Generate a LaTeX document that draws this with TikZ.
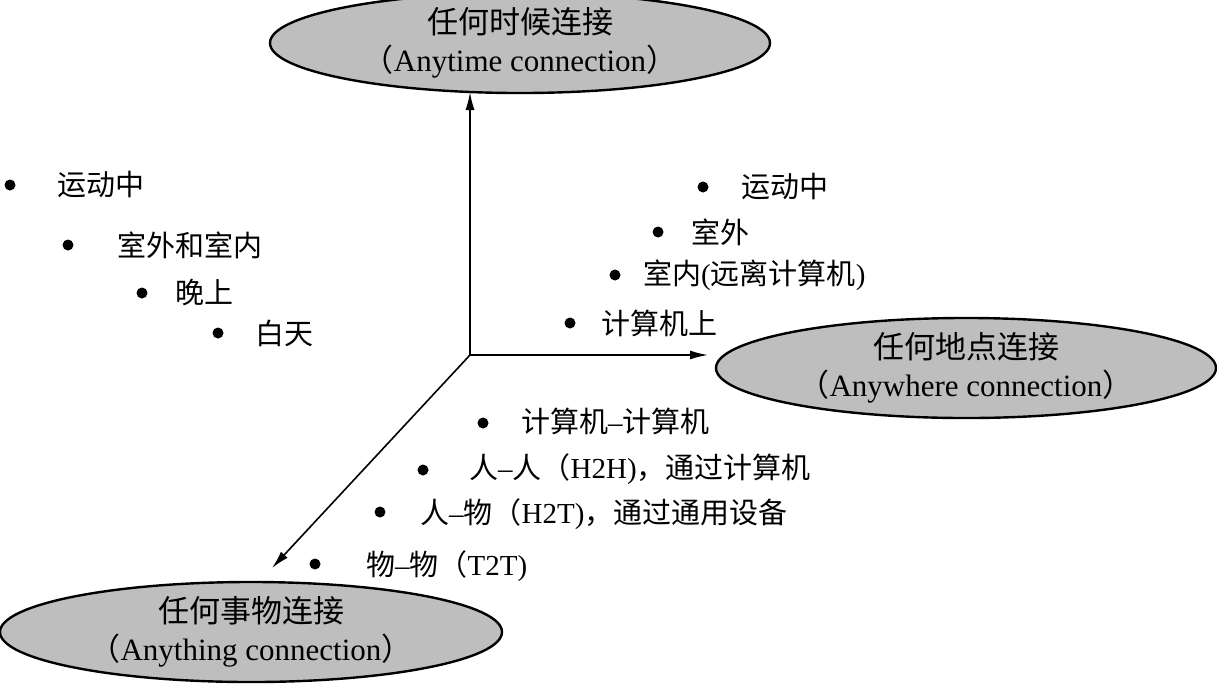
\documentclass[tikz,border=0pt]{standalone}
\usepackage{fontspec}
\setmainfont{Liberation Serif}
\newfontfamily\cjk{Noto Sans CJK SC}
\usepackage{tikz}
\usetikzlibrary{arrows.meta,positioning,shapes.geometric}
\definecolor{ovgray}{RGB}{190,190,190}

\begin{document}
\begin{tikzpicture}[x=1pt,y=-1pt,font=\fontsize{29}{38}\selectfont,
    goal/.style={ellipse,draw,line width=2.4pt,fill=ovgray,inner sep=0pt,align=center,minimum height=82pt,font=\fontsize{31}{38}\selectfont},
    pt/.style={circle,fill,inner sep=0pt,minimum size=11pt},
    lbl/.style={anchor=west,inner sep=0pt,font=\fontsize{29}{38}\selectfont\cjk},
    axis/.style={line width=1.6pt,-{Latex[length=18pt,width=9pt]}}]
        \useasboundingbox (0,0) rectangle (1217,683);
        % the three goals
        \node[goal,minimum width=500pt] (time) at (520,43) {{\cjk 任何时候连接}\\{\cjk （}Anytime connection{\cjk ）}};
        \node[goal,minimum width=500pt] (place) at (966,368) {{\cjk 任何地点连接}\\{\cjk （}Anywhere connection{\cjk ）}};
        \node[goal,minimum width=502pt] (thing) at (251,632) {{\cjk 任何事物连接}\\{\cjk （}Anything connection{\cjk ）}};
        % axes
        \coordinate (o) at (470,355);
        \coordinate (up) at (470,92);
        \coordinate (rt) at (708,355);
        \coordinate (dn) at (272,568);
        \draw[axis] (o) -- (up);
        \draw[axis] (o) -- (rt);
        \draw[axis] (o) -- (dn);
        % time
        \node[pt] (t1) at (10,185) {};  \node[lbl] (tl1) at (57,185) {运动中};
        \node[pt] (t2) at (68,245) {};  \node[lbl] (tl2) at (117,245) {室外和室内};
        \node[pt] (t3) at (142,293) {}; \node[lbl] (tl3) at (175,293) {晚上};
        \node[pt] (t4) at (218,333) {}; \node[lbl] (tl4) at (255,333) {白天};
        % place
        \node[pt] (p1) at (703,187) {}; \node[lbl] (pl1) at (741,187) {运动中};
        \node[pt] (p2) at (658,232) {}; \node[lbl] (pl2) at (691,232) {室外};
        \node[pt] (p3) at (615,275) {}; \node[lbl] (pl3) at (643,275) {室内{\rmfamily(}远离计算机{\rmfamily)}};
        \node[pt] (p4) at (570,323) {}; \node[lbl] (pl4) at (601,323) {计算机上};
        % thing
        \node[pt] (h1) at (483,423) {}; \node[lbl] (hl1) at (521,421) {计算机{\rmfamily –}计算机};
        \node[pt] (h2) at (423,470) {}; \node[lbl] (hl2) at (469,469) {人{\rmfamily –}人（{\rmfamily H2H)}，通过计算机};
        \node[pt] (h3) at (380,512) {}; \node[lbl] (hl3) at (420,514) {人{\rmfamily –}物（{\rmfamily H2T)}，通过通用设备};
        \node[pt] (h4) at (315,564) {}; \node[lbl] (hl4) at (366,566) {物{\rmfamily –}物（{\rmfamily T2T)}};
      \end{tikzpicture}
\end{document}
